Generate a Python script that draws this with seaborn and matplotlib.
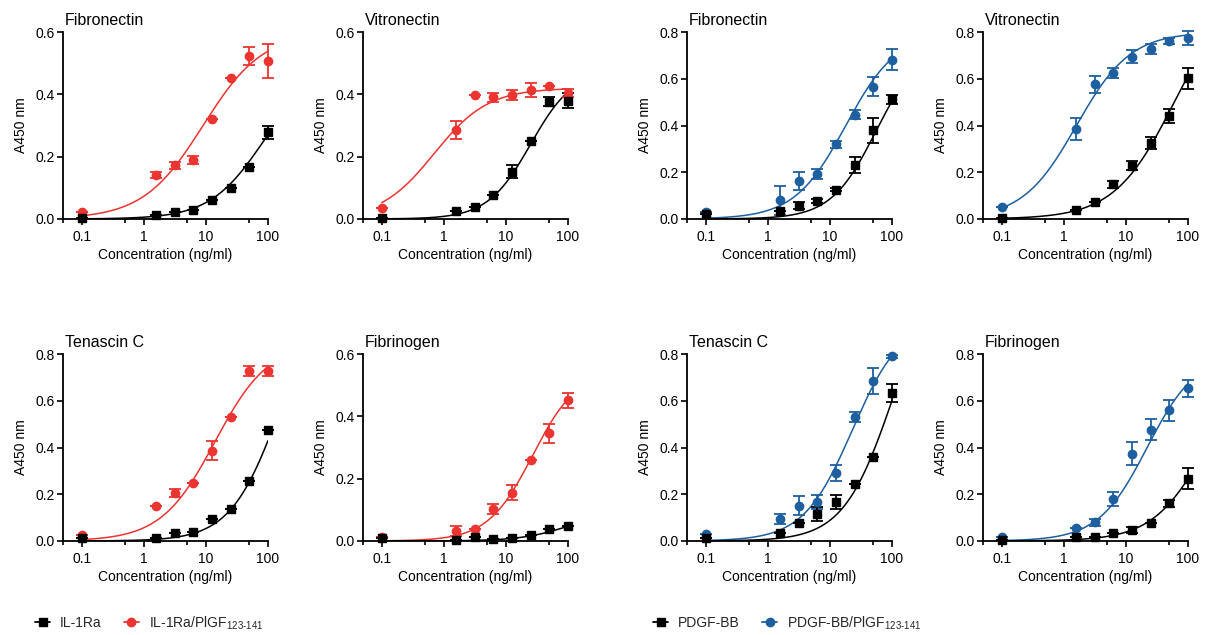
import matplotlib
matplotlib.use("Agg")

import matplotlib.pyplot as plt
import numpy as np
import seaborn as sns
from matplotlib.lines import Line2D
from matplotlib.ticker import FixedLocator, NullFormatter

sns.set_theme(style="ticks")
plt.rcParams["font.family"] = ["Liberation Sans", "DejaVu Sans"]
plt.rcParams["mathtext.fontset"] = "custom"
plt.rcParams["mathtext.rm"] = "Liberation Sans"

# concentration series (ng/ml)
conc = [0.1, 1.5625, 3.125, 6.25, 12.5, 25, 50, 100]

# IL-1Ra block: means and SEM
il1ra_fn = [0.002, 0.013, 0.024, 0.029, 0.060, 0.100, 0.168, 0.278]
il1ra_fn_err = [0, 0, 0, 0, 0, 0, 0, 0.020]
il1ra_plgf_fn = [0.022, 0.141, 0.172, 0.189, 0.321, 0.452, 0.523, 0.506]
il1ra_plgf_fn_err = [0, 0.010, 0.012, 0.012, 0, 0, 0.029, 0.055]

il1ra_vn = [0.004, 0.026, 0.040, 0.078, 0.152, 0.250, 0.377, 0.380]
il1ra_vn_err = [0, 0, 0, 0, 0.020, 0, 0.015, 0.025]
il1ra_plgf_vn = [0.035, 0.285, 0.399, 0.390, 0.398, 0.415, 0.428, 0.405]
il1ra_plgf_vn_err = [0, 0.028, 0, 0.015, 0.015, 0.022, 0, 0.012]

il1ra_tnc = [0.014, 0.014, 0.034, 0.040, 0.092, 0.138, 0.258, 0.477]
il1ra_tnc_err = [0, 0, 0, 0, 0, 0, 0, 0]
il1ra_plgf_tnc = [0.026, 0.150, 0.205, 0.248, 0.387, 0.530, 0.728, 0.728]
il1ra_plgf_tnc_err = [0, 0, 0.018, 0, 0.040, 0, 0.020, 0.020]

il1ra_fg = [0.010, 0.004, 0.012, 0.008, 0.011, 0.018, 0.040, 0.048]
il1ra_fg_err = [0, 0, 0, 0, 0, 0, 0, 0]
il1ra_plgf_fg = [0.012, 0.032, 0.038, 0.104, 0.155, 0.261, 0.345, 0.451]
il1ra_plgf_fg_err = [0, 0.015, 0, 0.016, 0.025, 0, 0.030, 0.025]

# PDGF-BB block
pdgf_fn = [0.021, 0.034, 0.057, 0.077, 0.126, 0.231, 0.379, 0.512]
pdgf_fn_err = [0, 0, 0.015, 0.010, 0.005, 0.035, 0.055, 0.020]
pdgf_plgf_fn = [0.031, 0.081, 0.162, 0.193, 0.320, 0.447, 0.566, 0.682]
pdgf_plgf_fn_err = [0, 0.062, 0.037, 0.020, 0.015, 0.020, 0.040, 0.045]

pdgf_vn = [0.006, 0.038, 0.074, 0.148, 0.228, 0.326, 0.440, 0.602]
pdgf_vn_err = [0, 0, 0, 0.015, 0.020, 0.025, 0.030, 0.045]
pdgf_plgf_vn = [0.051, 0.385, 0.576, 0.625, 0.695, 0.727, 0.762, 0.774]
pdgf_plgf_vn_err = [0, 0.045, 0.035, 0.020, 0.028, 0.020, 0.012, 0.030]

pdgf_tnc = [0.014, 0.035, 0.078, 0.115, 0.166, 0.242, 0.360, 0.634]
pdgf_tnc_err = [0, 0, 0, 0.030, 0.030, 0, 0, 0.038]
pdgf_plgf_tnc = [0.029, 0.094, 0.151, 0.166, 0.291, 0.530, 0.684, 0.790]
pdgf_plgf_tnc_err = [0, 0.020, 0.040, 0.030, 0.035, 0.020, 0.055, 0.005]

pdgf_fg = [0.006, 0.017, 0.017, 0.036, 0.047, 0.079, 0.161, 0.266]
pdgf_fg_err = [0, 0, 0, 0, 0.012, 0, 0.015, 0.045]
pdgf_plgf_fg = [0.019, 0.054, 0.080, 0.181, 0.374, 0.476, 0.560, 0.653]
pdgf_plgf_fg_err = [0, 0, 0.015, 0.030, 0.050, 0.045, 0.045, 0.035]

# 4PL fit parameters (top, EC50, hill), bottom = 0, estimated from the curves
il1ra_fn_fit = [0.50, 85, 1.0]
il1ra_plgf_fn_fit = [0.60, 9, 0.9]
il1ra_vn_fit = [0.48, 25, 1.25]
il1ra_plgf_vn_fit = [0.42, 0.7, 1.0]
il1ra_tnc_fit = [1.10, 150, 1.1]
il1ra_plgf_tnc_fit = [0.85, 14, 1.0]
il1ra_fg_fit = [0.10, 110, 1.1]
il1ra_plgf_fg_fit = [0.55, 27, 1.2]
pdgf_fn_fit = [0.75, 55, 1.2]
pdgf_plgf_fn_fit = [0.80, 18, 1.05]
pdgf_vn_fit = [1.00, 60, 0.9]
pdgf_plgf_vn_fit = [0.80, 1.6, 1.0]
pdgf_tnc_fit = [1.20, 100, 1.1]
pdgf_plgf_tnc_fit = [0.95, 23, 1.1]
pdgf_fg_fit = [0.80, 200, 1.0]
pdgf_plgf_fg_fit = [0.80, 22, 1.1]

RED = "#EC3430"
BLUE = "#1D5F9F"
BLACK = "#000000"

W, H = 1211, 635
col_left = [63, 363, 687, 983]
row_top = [32, 354]
ax_w, ax_h = 205, 187


def four_pl(x, params):
    top, ec50, hill = params
    return top / (1 + (ec50 / x) ** hill)


def draw_series(ax, y, err, fit, color, marker):
    xs = np.logspace(-1, 2, 200)
    sns.lineplot(x=xs, y=four_pl(xs, fit), ax=ax, color=color, linewidth=1.1)
    ax.errorbar(conc, y, yerr=err, fmt=marker, color=color, markersize=6,
                capsize=4, elinewidth=1.3, capthick=1.3, clip_on=False, zorder=5)


def draw_panel(pos, title, ymax, ctrl, ctrl_err, ctrl_fit, fus, fus_err, fus_fit, color):
    left = col_left[pos[1]] / W
    bottom = 1 - (row_top[pos[0]] + ax_h) / H
    ax = fig.add_axes([left, bottom, ax_w / W, ax_h / H])
    ax.set_xscale("log")

    draw_series(ax, fus, fus_err, fus_fit, color, "o")
    draw_series(ax, ctrl, ctrl_err, ctrl_fit, BLACK, "s")

    ax.set_xlim(0.05, 100)
    ax.set_ylim(0, ymax)
    ax.xaxis.set_major_locator(FixedLocator([0.1, 1, 10, 100]))
    ax.set_xticklabels(["0.1", "1", "10", "100"])
    ax.xaxis.set_minor_locator(FixedLocator([0.05, 0.5, 5, 50]))
    ax.xaxis.set_minor_formatter(NullFormatter())
    ax.set_yticks(np.arange(0, ymax + 0.01, 0.2))
    ax.set_yticklabels([f"{v:.1f}" for v in np.arange(0, ymax + 0.01, 0.2)])

    ax.tick_params(axis="both", which="major", direction="out", length=4, width=1.2,
                   labelsize=10, color="black", labelcolor="black")
    ax.tick_params(axis="x", which="major", pad=4)
    ax.tick_params(axis="y", which="major", pad=2)
    ax.tick_params(axis="x", which="minor", direction="out", length=3, width=1.2, color="black")

    sns.despine(ax=ax)
    for side in ["left", "bottom"]:
        ax.spines[side].set_linewidth(1.3)
        ax.spines[side].set_color("black")

    ax.set_xlabel("Concentration (ng/ml)", fontsize=10, labelpad=3, color="black")
    ax.set_ylabel("A450 nm", fontsize=10, labelpad=5, color="black")
    ax.set_title(title, loc="left", fontsize=11.5, pad=5, color="black", x=0.01)
    return ax


fig = plt.figure(figsize=(W / 100, H / 100), dpi=100)

draw_panel((0, 0), "Fibronectin", 0.6, il1ra_fn, il1ra_fn_err, il1ra_fn_fit,
           il1ra_plgf_fn, il1ra_plgf_fn_err, il1ra_plgf_fn_fit, RED)
draw_panel((0, 1), "Vitronectin", 0.6, il1ra_vn, il1ra_vn_err, il1ra_vn_fit,
           il1ra_plgf_vn, il1ra_plgf_vn_err, il1ra_plgf_vn_fit, RED)
draw_panel((1, 0), "Tenascin C", 0.8, il1ra_tnc, il1ra_tnc_err, il1ra_tnc_fit,
           il1ra_plgf_tnc, il1ra_plgf_tnc_err, il1ra_plgf_tnc_fit, RED)
draw_panel((1, 1), "Fibrinogen", 0.6, il1ra_fg, il1ra_fg_err, il1ra_fg_fit,
           il1ra_plgf_fg, il1ra_plgf_fg_err, il1ra_plgf_fg_fit, RED)

draw_panel((0, 2), "Fibronectin", 0.8, pdgf_fn, pdgf_fn_err, pdgf_fn_fit,
           pdgf_plgf_fn, pdgf_plgf_fn_err, pdgf_plgf_fn_fit, BLUE)
draw_panel((0, 3), "Vitronectin", 0.8, pdgf_vn, pdgf_vn_err, pdgf_vn_fit,
           pdgf_plgf_vn, pdgf_plgf_vn_err, pdgf_plgf_vn_fit, BLUE)
draw_panel((1, 2), "Tenascin C", 0.8, pdgf_tnc, pdgf_tnc_err, pdgf_tnc_fit,
           pdgf_plgf_tnc, pdgf_plgf_tnc_err, pdgf_plgf_tnc_fit, BLUE)
draw_panel((1, 3), "Fibrinogen", 0.8, pdgf_fg, pdgf_fg_err, pdgf_fg_fit,
           pdgf_plgf_fg, pdgf_plgf_fg_err, pdgf_plgf_fg_fit, BLUE)

# legends under each block
sub = r"$_{\mathregular{123\text{-}141}}$"
legend_kw = dict(frameon=False, ncol=2, loc="center left", borderpad=0, borderaxespad=0,
                 handlelength=1.1, handletextpad=0.7, columnspacing=1.6, fontsize=10)

left_handles = [
    Line2D([], [], color=BLACK, marker="s", markersize=6, linewidth=1.3),
    Line2D([], [], color=RED, marker="o", markersize=6, linewidth=1.3),
]
fig.legend(left_handles, ["IL-1Ra", "IL-1Ra/PlGF" + sub],
           bbox_to_anchor=(35 / W, 1 - 623 / H), **legend_kw)

right_handles = [
    Line2D([], [], color=BLACK, marker="s", markersize=6, linewidth=1.3),
    Line2D([], [], color=BLUE, marker="o", markersize=6, linewidth=1.3),
]
fig.legend(right_handles, ["PDGF-BB", "PDGF-BB/PlGF" + sub],
           bbox_to_anchor=(653 / W, 1 - 623 / H), **legend_kw)

fig.savefig("out.png", dpi=100)
